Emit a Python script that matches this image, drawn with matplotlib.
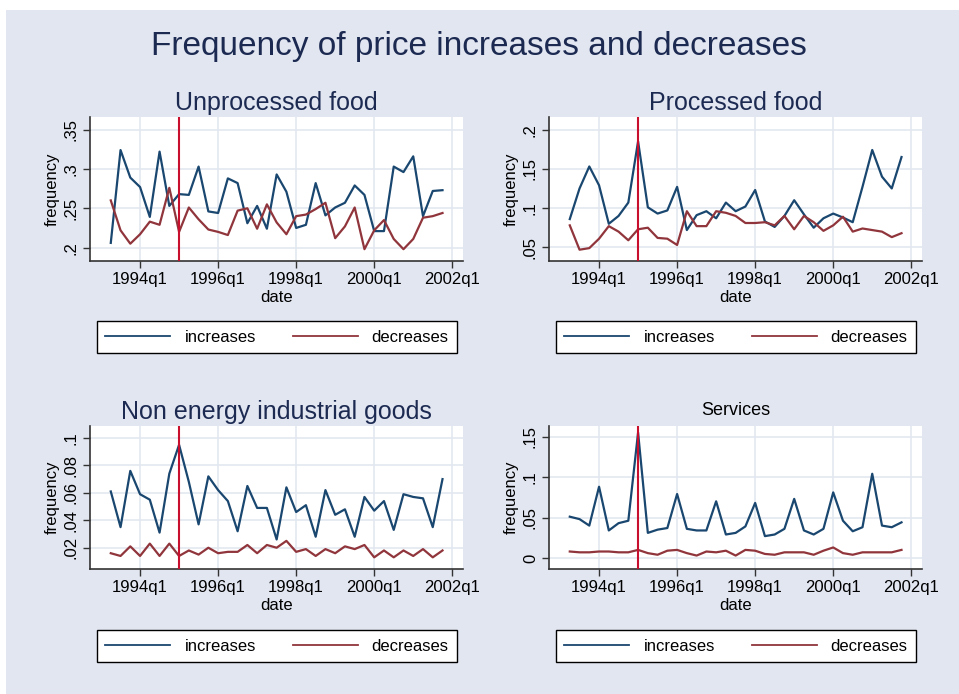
import numpy as np
import pandas as pd
import matplotlib
matplotlib.use('Agg')
import matplotlib.pyplot as plt
from matplotlib.patches import Rectangle
from matplotlib.lines import Line2D
from matplotlib.ticker import FuncFormatter

plt.rcParams['font.family'] = ['Liberation Sans', 'DejaVu Sans']

# quarterly dates 1993q2 .. 2001q4
dates = pd.period_range('1993Q2', '2001Q4', freq='Q')
break_date = pd.Period('1995Q1', freq='Q')
tick_dates = ['1994Q1', '1996Q1', '1998Q1', '2000Q1', '2002Q1']

titles = ['Unprocessed food', 'Processed food',
          'Non energy industrial goods', 'Services']

unproc_inc = [0.206, 0.324, 0.289, 0.277, 0.239, 0.322, 0.253, 0.268, 0.267,
              0.303, 0.246, 0.244, 0.288, 0.282, 0.231, 0.253, 0.224, 0.293,
              0.271, 0.225, 0.229, 0.282, 0.241, 0.251, 0.257, 0.279, 0.267,
              0.221, 0.221, 0.303, 0.296, 0.316, 0.240, 0.272, 0.273]
unproc_dec = [0.260, 0.222, 0.205, 0.217, 0.233, 0.229, 0.276, 0.220, 0.251,
              0.236, 0.223, 0.220, 0.216, 0.247, 0.250, 0.224, 0.255, 0.232,
              0.217, 0.240, 0.242, 0.249, 0.257, 0.212, 0.227, 0.251, 0.198,
              0.222, 0.235, 0.211, 0.198, 0.211, 0.238, 0.240, 0.244]

proc_inc = [0.086, 0.125, 0.153, 0.129, 0.080, 0.090, 0.107, 0.185, 0.101,
            0.093, 0.097, 0.127, 0.072, 0.091, 0.096, 0.087, 0.107, 0.096,
            0.102, 0.123, 0.083, 0.076, 0.090, 0.110, 0.092, 0.075, 0.087,
            0.093, 0.088, 0.082, 0.127, 0.174, 0.140, 0.125, 0.165]
proc_dec = [0.078, 0.047, 0.049, 0.061, 0.077, 0.070, 0.059, 0.073, 0.075,
            0.062, 0.061, 0.053, 0.096, 0.077, 0.077, 0.096, 0.094, 0.090,
            0.081, 0.081, 0.082, 0.078, 0.090, 0.073, 0.090, 0.082, 0.071,
            0.078, 0.089, 0.070, 0.074, 0.072, 0.070, 0.063, 0.068]

neig_inc = [0.061, 0.035, 0.076, 0.059, 0.055, 0.031, 0.074, 0.095, 0.068,
            0.037, 0.072, 0.062, 0.054, 0.032, 0.065, 0.049, 0.049, 0.026,
            0.064, 0.046, 0.051, 0.028, 0.062, 0.044, 0.048, 0.028, 0.057,
            0.047, 0.054, 0.033, 0.059, 0.057, 0.056, 0.035, 0.070]
neig_dec = [0.016, 0.014, 0.021, 0.014, 0.023, 0.014, 0.023, 0.014, 0.018,
            0.015, 0.020, 0.016, 0.017, 0.017, 0.022, 0.016, 0.022, 0.020,
            0.025, 0.017, 0.019, 0.014, 0.019, 0.016, 0.021, 0.019, 0.022,
            0.013, 0.018, 0.013, 0.018, 0.014, 0.019, 0.013, 0.018]

serv_inc = [0.051, 0.048, 0.040, 0.088, 0.034, 0.043, 0.046, 0.155, 0.031,
            0.035, 0.037, 0.079, 0.036, 0.034, 0.034, 0.070, 0.029, 0.031,
            0.039, 0.068, 0.027, 0.029, 0.036, 0.073, 0.034, 0.029, 0.036,
            0.081, 0.046, 0.033, 0.038, 0.104, 0.040, 0.038, 0.044]
serv_dec = [0.008, 0.007, 0.007, 0.008, 0.008, 0.007, 0.007, 0.010, 0.006,
            0.004, 0.009, 0.010, 0.006, 0.003, 0.008, 0.007, 0.009, 0.003,
            0.010, 0.009, 0.005, 0.004, 0.007, 0.007, 0.007, 0.004, 0.009,
            0.013, 0.006, 0.004, 0.007, 0.007, 0.007, 0.007, 0.010]

yticks = [[0.2, 0.25, 0.3, 0.35],
          [0.05, 0.1, 0.15, 0.2],
          [0.02, 0.04, 0.06, 0.08, 0.1],
          [0, 0.05, 0.1, 0.15]]
ylims = [(0.183, 0.366), (0.0326, 0.216), (0.0045, 0.1087), (-0.0136, 0.163)]
series = [(unproc_inc, unproc_dec), (proc_inc, proc_dec),
          (neig_inc, neig_dec), (serv_inc, serv_dec)]

BG = '#e2e6f1'
NAVY = '#1a476f'
MAROON = '#90353b'
VLINE = '#c8102e'
GRID = '#e3e7f0'
TITLE_C = '#1c2a52'

W, H = 959, 694


def stata_fmt(v, pos):
    s = '%g' % round(v, 6)
    if s.startswith('0.'):
        s = s[1:]
    return s


fig = plt.figure(figsize=(W / 100, H / 100), dpi=100, facecolor='white')
fig.patches.append(Rectangle((6 / W, 0), 1 - 6 / W, 1 - 10 / H,
                             transform=fig.transFigure, facecolor=BG,
                             edgecolor='none', zorder=-10))

fig.text(479 / W, 1 - 46 / H, 'Frequency of price increases and decreases',
         ha='center', va='center', fontsize=24, color=TITLE_C)

x = np.array([p.ordinal for p in dates])
xt = [pd.Period(d, freq='Q').ordinal for d in tick_dates]
xt_lab = ['%dq%d' % (pd.Period(d, freq='Q').year, pd.Period(d, freq='Q').quarter)
          for d in tick_dates]
x0 = pd.Period('1994Q1', freq='Q').ordinal

# panel geometry in pixels: (left, top, right, bottom)
boxes = [(90, 117, 463, 261), (549, 117, 922, 261),
         (90, 426, 463, 569), (549, 426, 922, 569)]
legend_top = [318, 318, 627, 627]

for i, (l, t, r, b) in enumerate(boxes):
    ax = fig.add_axes([l / W, 1 - b / H, (r - l) / W, (b - t) / H])
    ax.set_facecolor('white')
    inc, dec = series[i]
    ax.plot(x, inc, color=NAVY, lw=1.6, zorder=3)
    ax.plot(x, dec, color=MAROON, lw=1.6, zorder=3)
    ax.axvline(break_date.ordinal, color=VLINE, lw=1.5, zorder=4)

    ax.set_xlim(x0 - 5.13, x0 + 33.1)
    ax.set_ylim(*ylims[i])
    ax.set_xticks(xt)
    ax.set_xticklabels(xt_lab)
    ax.set_yticks(yticks[i])
    ax.yaxis.set_major_formatter(FuncFormatter(stata_fmt))
    for lab in ax.get_yticklabels():
        lab.set_rotation(90)
        lab.set_va('center')
    ax.tick_params(labelsize=12, length=5, width=1, color='#333333',
                   labelcolor='black', pad=3)
    ax.grid(True, color=GRID, lw=1.2, zorder=0)
    ax.set_axisbelow(True)
    for s in ['top', 'right']:
        ax.spines[s].set_visible(False)
    for s in ['left', 'bottom']:
        ax.spines[s].set_color('#333333')
        ax.spines[s].set_linewidth(1.2)
    ax.set_xlabel('date', fontsize=12, labelpad=2)
    ax.set_ylabel('frequency', fontsize=12, labelpad=3)

    if i == 3:
        ax.set_title(titles[i], fontsize=13, color='black', pad=8)
    else:
        ax.set_title(titles[i], fontsize=18, color=TITLE_C, pad=5)

    handles = [Line2D([], [], color=NAVY, lw=1.3),
               Line2D([], [], color=MAROON, lw=1.3)]
    ly = legend_top[i]
    leg = fig.legend(handles, ['increases', 'decreases'], ncol=2,
                     loc='lower left', mode='expand',
                     bbox_to_anchor=((l + 7) / W, 1 - (ly + 35) / H,
                                     360 / W, 35 / H),
                     bbox_transform=fig.transFigure,
                     fontsize=12, handlelength=3.9, handletextpad=0.85,
                     columnspacing=2.0, borderaxespad=0, borderpad=0.5,
                     fancybox=False, framealpha=1, edgecolor='black')
    leg.get_frame().set_linewidth(1.0)

fig.savefig('out.png', dpi=100, facecolor=fig.get_facecolor())
